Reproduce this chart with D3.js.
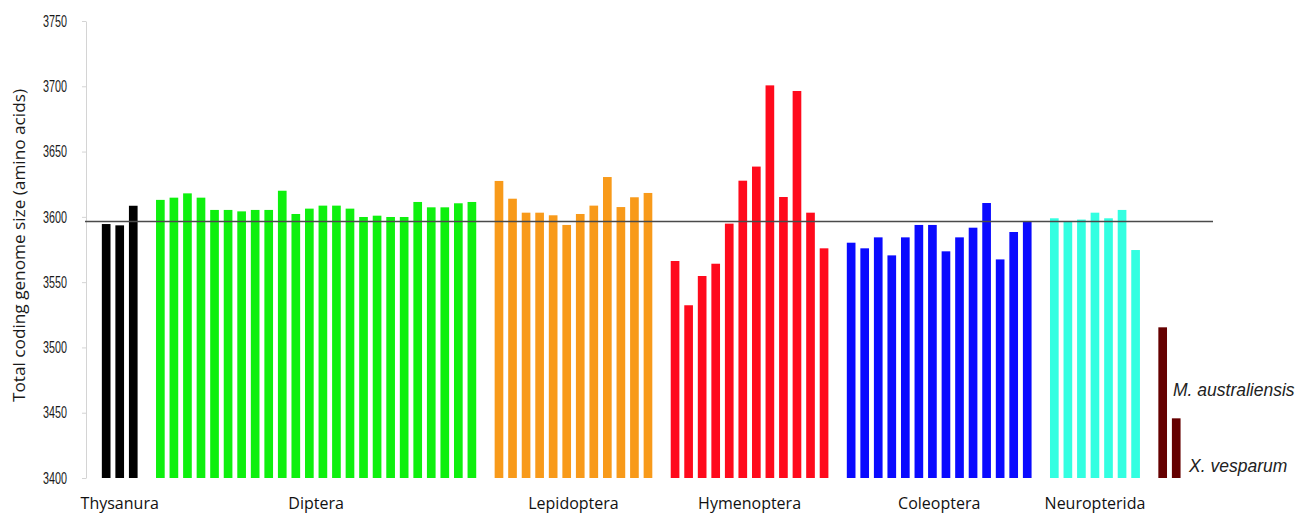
<!DOCTYPE html>
<html>
<head>
<meta charset="utf-8">
<script src="https://cdn.jsdelivr.net/npm/d3@7"></script>
<style>
  body { margin: 0; background: #fff; }
</style>
</head>
<body>
<div id="main"></div>
<script>
// values (amino acids)
const groupNames = ["Thysanura", "Diptera", "Lepidoptera", "Hymenoptera", "Coleoptera", "Neuropterida"];
const thysanura = [3594.5, 3593.5, 3608.5];
const diptera = [3613, 3614.7, 3618, 3614.7, 3605.3, 3605.3, 3604.2, 3605.3, 3605.3, 3620, 3602.2, 3606.3,
                 3608.6, 3608.6, 3606.3, 3599.9, 3600.9, 3599.9, 3599.9, 3611.4, 3607.3, 3607.3, 3610.4, 3611.4];
const lepidoptera = [3627.5, 3613.9, 3603.2, 3603.2, 3601.2, 3593.8, 3602.2, 3608.6, 3630.5, 3607.5, 3615, 3618.3];
const hymenoptera = [3566.2, 3532.3, 3554.7, 3564.1, 3594.8, 3627.7, 3638.5, 3700.7, 3615.2, 3696.4, 3603.2, 3575.9];
const coleoptera = [3580.2, 3575.9, 3584.3, 3570.5, 3584.3, 3593.8, 3593.8, 3573.6, 3584.3, 3591.7, 3610.6, 3567.4, 3588.4, 3596.3];
const neuropterida = [3598.9, 3596.1, 3597.9, 3603.2, 3598.9, 3605.3, 3574.6];
const outgroup = [3515.4, 3445.7];
const outgroupNames = ["M. australiensis", "X. vesparum"];
const yTicks = [3400, 3450, 3500, 3550, 3600, 3650, 3700, 3750];
const meanValue = 3596.5;

const groupValues = [thysanura, diptera, lepidoptera, hymenoptera, coleoptera, neuropterida, outgroup];
const groupColors = ["#000000", "#0ef00e", "#f89a1a", "#ff0a1c", "#0a0aff", "#33ffe1", "#650000"];

//size of the page
const width = 1302;
const height = 514;

const svg = d3.select('#main')
              .append('svg')
              .attr('width', width)
              .attr('height', height)
              .style('font-family', 'Liberation Sans, Arial, sans-serif');

//flatten groups into slots, one empty slot between groups
let bars = [];
let spans = [];
let slot = 0;
groupValues.forEach(function(vals, g) {
  const first = slot;
  vals.forEach(function(v) {
    bars.push({slot: slot, value: v, group: g});
    slot++;
  });
  spans.push([first, slot - 1]);
  slot++;
});
const nSlots = slot - 1;

const xScale = d3.scaleBand()
                 .domain(d3.range(nSlots))
                 .range([99.4, 1183])
                 .paddingInner(0.36)
                 .paddingOuter(0.18);
const yScale = d3.scaleLinear().domain([3400, 3750]).range([478, 21]);

//y axis
const yAxis = d3.axisLeft(yScale)
                .tickValues(yTicks)
                .tickFormat(d3.format('d'))
                .tickSize(4)
                .tickSizeOuter(0)
                .tickPadding(15);
const gy = svg.append('g').attr('transform', 'translate(86,0)').call(yAxis);
gy.select('.domain').attr('stroke', '#d4d4d4');
gy.selectAll('.tick line').attr('stroke', '#d4d4d4');
gy.selectAll('.tick text')
  .attr('fill', '#1a1a1a')
  .style('font-size', '16.5px')
  .attr('textLength', 24)
  .attr('lengthAdjust', 'spacingAndGlyphs');

svg.append('text')
   .attr('transform', 'translate(25,245.5) rotate(-90)')
   .attr('text-anchor', 'middle')
   .attr('textLength', 313)
   .attr('lengthAdjust', 'spacingAndGlyphs')
   .style('font-family', 'Open Sans, sans-serif')
   .style('font-size', '16px')
   .attr('fill', '#1a1a1a')
   .text('Total coding genome size (amino acids)');

//bars
svg.selectAll('rect.bar').data(bars)
   .enter().append('rect')
   .attr('class', 'bar')
   .attr('x', function(d) { return xScale(d.slot); })
   .attr('y', function(d) { return yScale(d.value); })
   .attr('width', xScale.bandwidth())
   .attr('height', function(d) { return yScale(3400) - yScale(d.value); })
   .attr('fill', function(d) { return groupColors[d.group]; });

//mean line over the bars
svg.append('line')
   .attr('x1', 85).attr('x2', 1213)
   .attr('y1', yScale(meanValue)).attr('y2', yScale(meanValue))
   .attr('stroke', '#4a4a4a')
   .attr('stroke-width', 1.6);

//group names under the bars
svg.selectAll('text.group').data(groupNames)
   .enter().append('text')
   .attr('class', 'group')
   .attr('x', function(d, i) { return (xScale(spans[i][0]) + xScale(spans[i][1]) + xScale.bandwidth()) / 2; })
   .attr('y', 509)
   .attr('text-anchor', 'middle')
   .style('font-family', 'Open Sans, sans-serif')
   .style('font-size', '16px')
   .attr('fill', '#111')
   .text(function(d) { return d; });

//outgroup species names
const last = spans[spans.length - 1];
const labelPos = [[xScale(last[0]) + xScale.bandwidth() + 6, 396], [xScale(last[1]) + xScale.bandwidth() + 8.5, 472]];
svg.selectAll('text.species').data(outgroupNames)
   .enter().append('text')
   .attr('class', 'species')
   .attr('x', function(d, i) { return labelPos[i][0]; })
   .attr('y', function(d, i) { return labelPos[i][1]; })
   .style('font-style', 'italic')
   .style('font-size', '17.5px')
   .attr('fill', '#222')
   .text(function(d) { return d; });
</script>
</body>
</html>
